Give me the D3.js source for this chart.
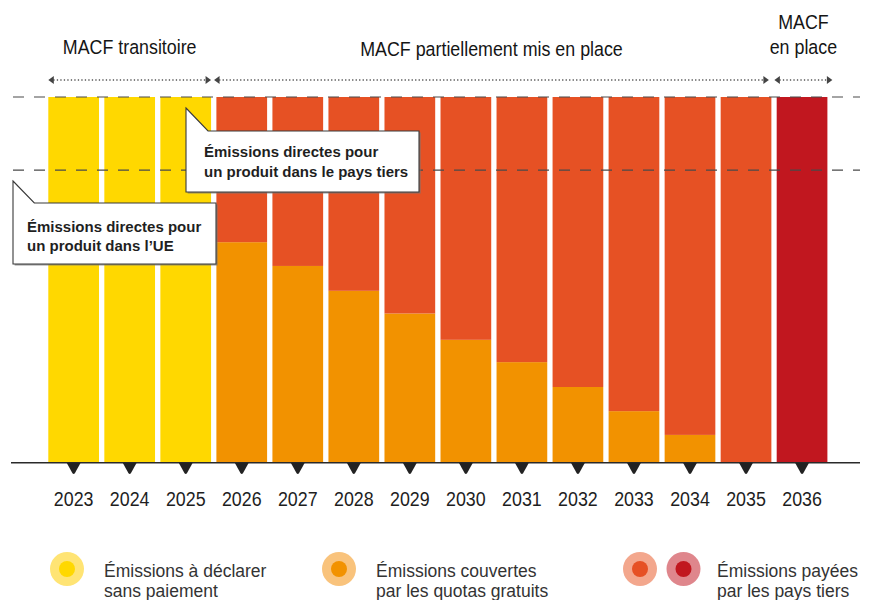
<!DOCTYPE html>
<html lang="fr">
<head>
<meta charset="utf-8">
<script src="https://cdn.jsdelivr.net/npm/d3@7"></script>
<style>
  html, body { margin: 0; padding: 0; background: #fff; }
  svg { display: block; }
  .sans { font-family: "Liberation Sans", Arial, Helvetica, sans-serif; }
</style>
</head>
<body>
<svg id="chart" width="871" height="600"></svg>
<script>
// Years on the horizontal axis
const years = ["2023", "2024", "2025", "2026", "2027", "2028", "2029",
               "2030", "2031", "2032", "2033", "2034", "2035", "2036"];

// Share of a product's direct emissions (full bar = 100)
const declaredOnly = [100, 100, 100, 0, 0, 0, 0, 0, 0, 0, 0, 0, 0, 0];
const freeQuotas   = [0, 0, 0, 60.3, 53.8, 47.0, 40.8, 33.6, 27.5, 20.7, 14.1, 7.6, 0, 0];
const paidPartial  = [0, 0, 0, 39.7, 46.2, 53.0, 59.2, 66.4, 72.5, 79.3, 85.9, 92.4, 100, 0];
const paidFull     = [0, 0, 0, 0, 0, 0, 0, 0, 0, 0, 0, 0, 0, 100];

// Reference level for the third-country product's direct emissions
const thirdCountryLevel = 80;

// Phase headings and the years they span
const phases = [
  { lines: ["MACF transitoire"], from: "2023", to: "2025" },
  { lines: ["MACF partiellement mis en place"], from: "2026", to: "2035" },
  { lines: ["MACF", "en place"], from: "2036", to: "2036" }
];

const seriesKeys   = ["declaredOnly", "freeQuotas", "paidPartial", "paidFull"];
const seriesColors = { declaredOnly: "#FFD800", freeQuotas: "#F29200", paidPartial: "#E65124", paidFull: "#C1171F" };

const legendItems = [
  { keys: ["declaredOnly"], lines: ["Émissions à déclarer", "sans paiement"] },
  { keys: ["freeQuotas"], lines: ["Émissions couvertes", "par les quotas gratuits"] },
  { keys: ["paidPartial", "paidFull"], lines: ["Émissions payées", "par les pays tiers"] }
];
const legendHalo = { declaredOnly: "#FFE474", freeQuotas: "#F9C37C", paidPartial: "#F3A78D", paidFull: "#DF868C" };

const rows = years.map((y, i) => ({
  year: y,
  declaredOnly: declaredOnly[i],
  freeQuotas: freeQuotas[i],
  paidPartial: paidPartial[i],
  paidFull: paidFull[i]
}));

// Condensed look for headings and year labels
const condense = 0.87;

const svg = d3.select("#chart");

const x = d3.scaleBand().domain(years).range([48.3, 827.4]).paddingInner(0.095).paddingOuter(0);
const y = d3.scaleLinear().domain([0, 100]).range([462.7, 97]);

// Stacked bars
const stacked = d3.stack().keys(seriesKeys)(rows);
const barLayer = svg.append("g");
barLayer.selectAll("g")
  .data(stacked)
  .join("g")
  .attr("fill", d => seriesColors[d.key])
  .selectAll("rect")
  .data(d => d.filter(s => s[1] - s[0] > 0))
  .join("rect")
  .attr("x", d => x(d.data.year))
  .attr("width", x.bandwidth())
  .attr("y", d => y(d[1]))
  .attr("height", d => y(d[0]) - y(d[1]));

// Dashed reference lines (full bar and third-country level)
const refLayer = svg.append("g");
[100, thirdCountryLevel].forEach(v => {
  refLayer.append("line")
    .attr("x1", 13).attr("x2", 860)
    .attr("y1", y(v)).attr("y2", y(v))
    .attr("stroke", "#4a4a4a")
    .attr("stroke-width", 1.2)
    .attr("stroke-dasharray", "11,10");
});

// Baseline axis with triangular tick markers
svg.append("line")
  .attr("x1", 11).attr("x2", 860)
  .attr("y1", y(0)).attr("y2", y(0))
  .attr("stroke", "#2a2a2a")
  .attr("stroke-width", 1.5);

const axis = svg.append("g")
  .attr("transform", `translate(0,${y(0)})`)
  .call(d3.axisBottom(x).tickSize(0).tickPadding(29));
axis.select(".domain").remove();
axis.selectAll(".tick text")
  .attr("class", "sans")
  .attr("font-size", 20.5)
  .attr("transform", `scale(${condense},1)`)
  .attr("fill", "#1e1e1e");
axis.selectAll(".tick")
  .append("path")
  .attr("d", "M-7,0 L7,0 L1.2,10.5 Q0,12 -1.2,10.5 Z")
  .attr("fill", "#222");

// Phase headings with dotted double arrows
const phaseLayer = svg.append("g").attr("class", "sans");
const arrowY = 80;
phases.forEach((p, i) => {
  const left = x(p.from) - (i === 0 ? 0 : 2.3);
  const right = x(p.to) + x.bandwidth() + (i === 2 ? 5 : 0) - (i === 1 ? 2.5 : 0);
  const cx = (left + right) / 2;
  const t = phaseLayer.append("g")
    .attr("transform", `translate(${cx},0) scale(${condense},1)`)
    .append("text")
    .attr("text-anchor", "middle")
    .attr("font-size", 20.5)
    .attr("fill", "#151515");
  if (p.lines.length === 1) {
    t.append("tspan").attr("x", 0).attr("y", i === 0 ? 54 : 56).text(p.lines[0]);
  } else {
    t.append("tspan").attr("x", 0).attr("y", 29.5).text(p.lines[0]);
    t.append("tspan").attr("x", 0).attr("y", 54.5).text(p.lines[1]);
  }
  phaseLayer.append("line")
    .attr("x1", left + 5).attr("x2", right - 5)
    .attr("y1", arrowY).attr("y2", arrowY)
    .attr("stroke", "#555")
    .attr("stroke-width", 1.3)
    .attr("stroke-dasharray", "1.3,2.2");
  phaseLayer.append("path")
    .attr("d", `M${left},${arrowY} L${left + 5.5},${arrowY - 4} L${left + 5.5},${arrowY + 4} Z`)
    .attr("fill", "#444");
  phaseLayer.append("path")
    .attr("d", `M${right},${arrowY} L${right - 5.5},${arrowY - 4} L${right - 5.5},${arrowY + 4} Z`)
    .attr("fill", "#444");
});

// Speech-bubble callouts
function callout(tipX, tipY, notchX, top, right, bottom, lines, textX, baseY) {
  const pts = [[tipX, tipY], [notchX, top], [right, top], [right, bottom], [tipX, bottom]];
  const path = "M" + pts.map(p => p.join(",")).join("L") + "Z";
  const g = svg.append("g");
  g.append("path").attr("d", path).attr("transform", "translate(1.6,1.6)").attr("fill", "#777").attr("opacity", 0.75);
  g.append("path").attr("d", path).attr("fill", "#fff").attr("stroke", "#3a3a3a").attr("stroke-width", 1.1);
  const t = g.append("text").attr("class", "sans")
    .attr("font-size", 15).attr("font-weight", "bold").attr("fill", "#1f1f1f");
  lines.forEach((l, i) => t.append("tspan").attr("x", textX).attr("y", baseY + i * 19.5).text(l));
}
callout(186, 108, 208, 131, 419, 192,
        ["Émissions directes pour", "un produit dans le pays tiers"], 204, 157);
callout(13, 181, 34.3, 203, 216, 264,
        ["Émissions directes pour", "un produit dans l’UE"], 27, 231.5);

// Legend
const legendPos = [{ cx: 67, tx: 104 }, { cx: 339, tx: 376 }, { cx: 640, tx: 717 }];
const legendY = 569;
legendItems.forEach((item, i) => {
  const g = svg.append("g");
  item.keys.forEach((k, j) => {
    const cx = legendPos[i].cx + j * 43.5;
    g.append("circle").attr("cx", cx).attr("cy", legendY).attr("r", 17).attr("fill", legendHalo[k]);
    g.append("circle").attr("cx", cx).attr("cy", legendY).attr("r", 8).attr("fill", seriesColors[k]);
  });
  const t = g.append("text").attr("class", "sans").attr("font-size", 17.5).attr("fill", "#333");
  item.lines.forEach((l, j) => t.append("tspan").attr("x", legendPos[i].tx).attr("y", 577 + j * 19.5).text(l));
});
</script>
</body>
</html>
